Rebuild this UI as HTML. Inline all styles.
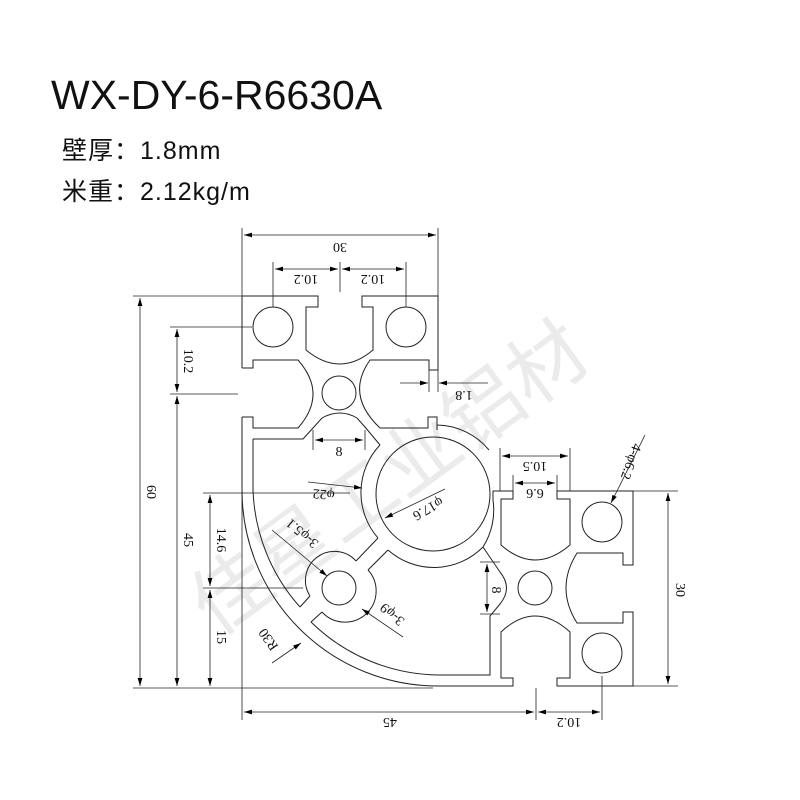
<!DOCTYPE html>
<html><head><meta charset="utf-8"><style>
html,body{margin:0;padding:0;background:#fff;}
.t{position:absolute;font-family:"Liberation Sans","Noto Sans CJK SC",sans-serif;color:#111;white-space:nowrap;}
</style></head><body>
<div style="position:relative;width:800px;height:800px;overflow:hidden;background:#fff">
<svg width="800" height="800" style="position:absolute;left:0;top:0" xmlns="http://www.w3.org/2000/svg">
<text x="0" y="0" font-size="78" fill="#ebebeb" font-family="Noto Sans CJK SC,sans-serif" text-anchor="middle" transform="translate(405,500) rotate(-36)">佳星工业铝材</text>
</svg>
<div class="t" style="left:51px;top:72px;font-size:41px;">WX-DY-6-R6630A</div>
<div class="t" style="left:62px;top:131px;font-size:25px;letter-spacing:1px;">壁厚：1.8mm</div>
<div class="t" style="left:62px;top:172px;font-size:25px;letter-spacing:1px;">米重：2.12kg/m</div>
<svg width="800" height="800" style="position:absolute;left:0;top:0" xmlns="http://www.w3.org/2000/svg">
<defs><marker id="a" viewBox="0 0 10 6" refX="10" refY="3" markerWidth="10" markerHeight="6" orient="auto-start-reverse"><path d="M0,0L10,3L0,6z" fill="#000"/></marker></defs>
<g fill="none" stroke="#222" stroke-width="1">
<path d="M242,368 V296 H318 V307 H306 V350 Q340,378 373,350 V307 H362 V296 H438 V370 H429 V360 H370 Q345,395 380,428 H428 V417 H437 V430"/>
<path d="M242,368 H253 V360 H298 Q328,394 298,428 H253 V417 H242"/>
<path d="M253,439 H303 L313,428 L322,418 Q340,408 357,418 L365,427 L380,445"/>
<circle cx="273" cy="327" r="20"/><circle cx="406" cy="327" r="20"/><circle cx="339" cy="393" r="17"/>
<path d="M437,425 A69,69 0 0 1 489,450"/>
<path d="M380,445 A69,69 0 0 0 378,538"/>
<path d="M493,500 A69,69 0 0 1 483,547"/>
<path d="M388,550 A69,69 0 0 0 483,547"/>
<circle cx="433" cy="494" r="57"/>
<path d="M378,538 L356,561"/>
<path d="M388,550 L368,570"/>
<circle cx="339" cy="588" r="17"/>
<path d="M310,596 A29,29 0 0 1 356,561"/>
<path d="M322,612 A29,29 0 0 0 368,570"/>
<path d="M310,596 L300,607 M322,612 L311,622"/>
<path d="M242,417 V490 A196,196 0 0 0 438,686 H513 V678 H501 V632 Q535,600 570,632 V678 H557 V686 H633 V612 H623 V623 H577 Q555,588 577,553 H623 V565 H633 V491 H557 V499 H570 V545 Q535,575 501,545 V499 H513 V491 H493 V500"/>
<path d="M253,439 V490 A185,185 0 0 0 300,607"/>
<path d="M311,622 A185,185 0 0 0 438,675 H490 V616 L500,604 Q513,588 500,572 L483,547"/>
<circle cx="602" cy="522" r="20"/><circle cx="602" cy="653" r="20"/><circle cx="535" cy="588" r="17"/>
</g>
<g stroke="#222" stroke-width="0.8" fill="none">
<path d="M242,228 V296 M438,228 V296 M273,262 V307 M406,262 V307 M340,262 V292 M242,417 V720"/>
<path d="M244,235 H436" marker-start="url(#a)" marker-end="url(#a)"/>
<path d="M275,269 H338" marker-start="url(#a)" marker-end="url(#a)"/>
<path d="M342,269 H404" marker-start="url(#a)" marker-end="url(#a)"/>
<path d="M133,296 H242 M133,688 H433 M170,327 H252 M170,394 H238 M203,493 H350 M203,588 H303"/>
<path d="M140,298 V686" marker-start="url(#a)" marker-end="url(#a)"/>
<path d="M177,329 V392" marker-start="url(#a)" marker-end="url(#a)"/>
<path d="M177,396 V686" marker-start="url(#a)" marker-end="url(#a)"/>
<path d="M210,495 V586" marker-start="url(#a)" marker-end="url(#a)"/>
<path d="M210,590 V686" marker-start="url(#a)" marker-end="url(#a)"/>
<path d="M536,688 V720 M602,676 V720"/>
<path d="M244,712 H534" marker-start="url(#a)" marker-end="url(#a)"/>
<path d="M538,712 H600" marker-start="url(#a)" marker-end="url(#a)"/>
<path d="M633,491 H678 M633,686 H678"/>
<path d="M668,493 V684" marker-start="url(#a)" marker-end="url(#a)"/>
<path d="M500,448 V491 M570,448 V491 M513,475 V491 M557,475 V491"/>
<path d="M502,456 H568" marker-start="url(#a)" marker-end="url(#a)"/>
<path d="M515,483 H555" marker-start="url(#a)" marker-end="url(#a)"/>
<path d="M480,562 H500 M480,614 H500"/>
<path d="M487,564 V612" marker-start="url(#a)" marker-end="url(#a)"/>
<path d="M429,370 V392 M438,370 V392"/>
<path d="M400,383 H428" marker-end="url(#a)"/>
<path d="M488,383 H439" marker-end="url(#a)"/>
<path d="M313,430 V450 M365,430 V450"/>
<path d="M315,440 H363" marker-start="url(#a)" marker-end="url(#a)"/>
<path d="M308,482 L362,488" marker-end="url(#a)"/>
<path d="M445,489 L385,518" marker-end="url(#a)"/>
<path d="M272,530 L327,576" marker-end="url(#a)"/>
<path d="M403,637 L362,609" marker-end="url(#a)"/>
<path d="M272,663 L301,643" marker-end="url(#a)"/>
<path d="M645,435 L611,503" marker-end="url(#a)"/>
</g>
<g font-family="Liberation Serif,serif" font-size="14" fill="#111" text-anchor="middle">
<text transform="translate(340,243) rotate(180)">30</text>
<text transform="translate(306,275) rotate(180)">10.2</text>
<text transform="translate(373,275) rotate(180)">10.2</text>
<text transform="translate(147,492) rotate(90)">60</text>
<text transform="translate(184,540) rotate(90)">45</text>
<text transform="translate(184,361) rotate(90)">10.2</text>
<text transform="translate(217,540) rotate(90)">14.6</text>
<text transform="translate(217,637) rotate(90)">15</text>
<text transform="translate(390,718) rotate(180)">45</text>
<text transform="translate(569,718) rotate(180)">10.2</text>
<text transform="translate(676,590) rotate(90)">30</text>
<text transform="translate(535,462) rotate(180)">10.5</text>
<text transform="translate(535,489) rotate(180)">6.6</text>
<text transform="translate(492,590) rotate(90)">8</text>
<text transform="translate(464,391) rotate(180)">1.8</text>
<text x="339" y="456">8</text>
<text transform="translate(324,490) rotate(185)">φ22</text>
<text transform="translate(426,505) rotate(150)">φ17.6</text>
<text transform="translate(305,530) rotate(220)">3-φ5.1</text>
<text transform="translate(395,611) rotate(220)">3-φ9</text>
<text transform="translate(272,637) rotate(235)">R30</text>
<text transform="translate(627,460) rotate(110)">4-φ6.2</text>
</g>
</svg>
</div>
</body></html>
